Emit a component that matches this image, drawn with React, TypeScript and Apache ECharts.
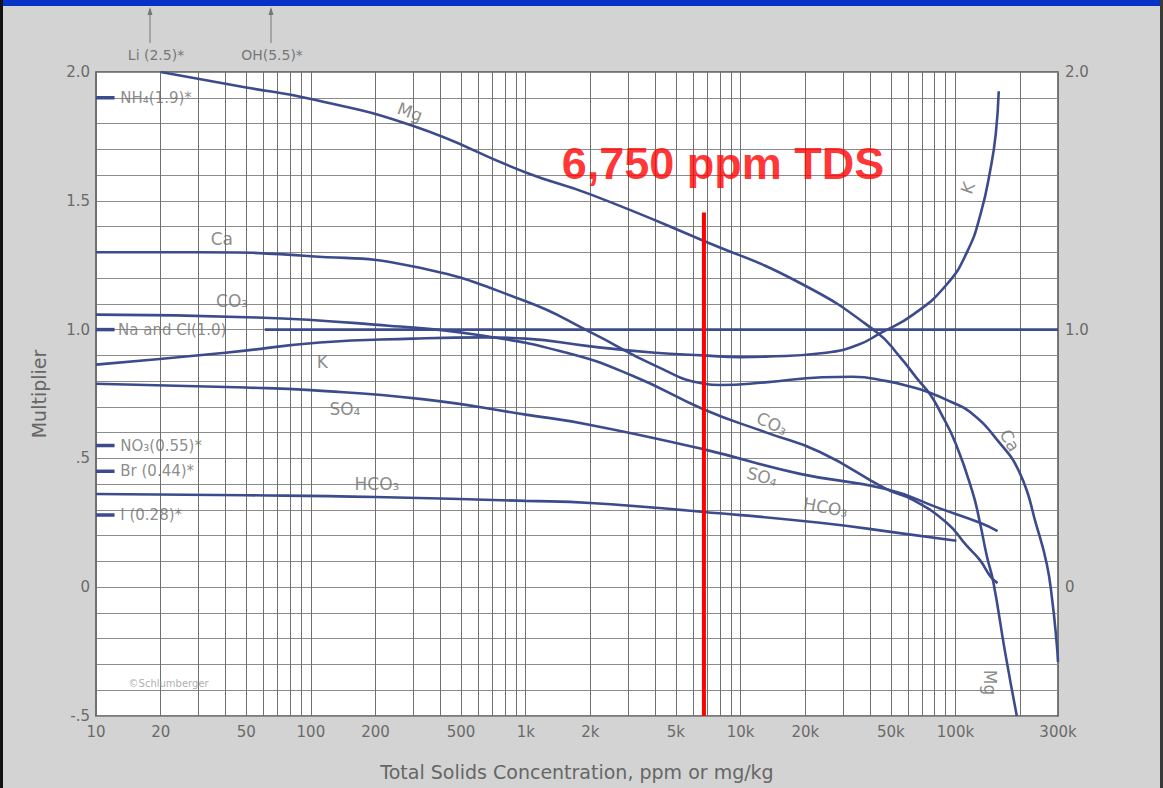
import React, { useEffect, useRef } from "react";
import * as echarts from "echarts";

// ---------------- data ----------------
const mgX = [20, 50, 100, 300, 1000, 2000, 6500, 19000, 43000, 55000, 67000, 76000, 85000, 100000, 120000, 130000, 140000, 150000, 170000, 193000];
const mgY = [2.0, 1.94, 1.895, 1.79, 1.61, 1.525, 1.35, 1.18, 0.99, 0.895, 0.805, 0.75, 0.68, 0.56, 0.37, 0.25, 0.12, 0.02, -0.25, -0.5];

const caX = [10, 30, 100, 300, 1000, 2000, 4000, 6750, 8000, 13000, 24000, 33000, 48000, 62000, 76000, 95000, 117000, 157000, 200000, 239000, 266000, 282000, 296000, 300000];
const caY = [1.3, 1.3, 1.285, 1.245, 1.11, 0.99, 0.86, 0.79, 0.785, 0.795, 0.815, 0.817, 0.8, 0.778, 0.755, 0.72, 0.68, 0.57, 0.44, 0.235, 0.09, -0.05, -0.22, -0.29];

const kX = [10, 40, 110, 300, 650, 1000, 2000, 4000, 6750, 10000, 13000, 25000, 35000, 44500, 64000, 91000, 113000, 131000, 146000, 154000, 159000];
const kY = [0.864, 0.91, 0.95, 0.965, 0.97, 0.965, 0.935, 0.91, 0.9, 0.893, 0.895, 0.91, 0.94, 0.985, 1.06, 1.175, 1.3, 1.45, 1.63, 1.76, 1.925];

const co3X = [10, 56, 230, 590, 1550, 3160, 6750, 13200, 23400, 48000, 63000, 91000, 113000, 130000, 146000, 157000];
const co3Y = [1.058, 1.047, 1.015, 0.98, 0.91, 0.82, 0.69, 0.6, 0.525, 0.38, 0.34, 0.25, 0.16, 0.105, 0.04, 0.016];

const so4X = [10, 50, 100, 330, 1000, 2000, 6750, 18900, 48000, 85000, 130000, 157000];
const so4Y = [0.79, 0.775, 0.765, 0.73, 0.67, 0.63, 0.535, 0.44, 0.38, 0.305, 0.25, 0.218];

const hco3X = [10, 50, 200, 1000, 2000, 6750, 23400, 55000, 101000];
const hco3Y = [0.362, 0.357, 0.35, 0.335, 0.327, 0.292, 0.25, 0.21, 0.18];

const naclX = [61, 300000];
const naclY = [1.0, 1.0];

// short marks at the left edge: NH4, Na/Cl, NO3, Br, I
const edgeMarkValues = [1.9, 1.0, 0.55, 0.45, 0.28];
const edgeMarkX = [10, 12.2];

// 6,750 ppm TDS marker
const tdsValue = 6750;
const tdsY = [1.455, -0.5];

// axis ticks / grid
const xLabelValues = [10, 20, 50, 100, 200, 500, 1000, 2000, 5000, 10000, 20000, 50000, 100000, 300000];
const xGridValues = [
  10, 20, 30, 40, 50, 60, 70, 80, 90,
  100, 200, 300, 400, 500, 600, 700, 800, 900,
  1000, 2000, 3000, 4000, 5000, 6000, 7000, 8000, 9000,
  10000, 20000, 30000, 40000, 50000, 60000, 70000, 80000, 90000,
  100000, 200000, 300000,
];
const yLeftLabelValues = [-0.5, 0, 0.5, 1, 1.5, 2];
const yLeftLabelTexts = ["-.5", "0", ".5", "1.0", "1.5", "2.0"];
const yRightLabelValues = [0, 1, 2];
const yRightLabelTexts = ["0", "1.0", "2.0"];

// text annotations anchored in data coordinates
const annotations = [
  { text: "Mg", x: 289, y: 1.845, rot: -20, size: 17 },
  { text: "Ca", x: 38.5, y: 1.35, rot: 0, size: 17 },
  { text: "CO₃", x: 43, y: 1.11, rot: 0, size: 17 },
  { text: "K", x: 113, y: 0.875, rot: 0, size: 17 },
  { text: "SO₄", x: 144, y: 0.69, rot: 0, size: 17 },
  { text: "HCO₃", x: 203, y: 0.4, rot: 0, size: 17 },
  { text: "CO₃", x: 14000, y: 0.635, rot: -25, size: 17 },
  { text: "SO₄", x: 12600, y: 0.43, rot: -15, size: 17 },
  { text: "HCO₃", x: 24900, y: 0.31, rot: -10, size: 17 },
  { text: "Ca", x: 179000, y: 0.57, rot: -60, size: 17 },
  { text: "K", x: 114000, y: 1.55, rot: 70, size: 17 },
  { text: "Mg", x: 145000, y: -0.37, rot: -90, size: 17 },
];
const edgeLabels = [
  { text: "NH₄(1.9)*", x: 12.9, y: 1.9 },
  { text: "Na and Cl(1.0)", x: 12.6, y: 1.0 },
  { text: "NO₃(0.55)*", x: 12.9, y: 0.55 },
  { text: "Br (0.44)*", x: 12.9, y: 0.45 },
  { text: "I (0.28)*", x: 12.9, y: 0.28 },
];

const CURVE = "#3c4b8b";
const LABEL = "#6e6e6e";
const FONT = "DejaVu Sans";

const zip = (xs: number[], ys: number[]) => xs.map((x, i) => [x, ys[i]]);

function curve(name: string, xs: number[], ys: number[], smooth: number | boolean = 0.5) {
  return {
    name,
    type: "line",
    data: zip(xs, ys),
    symbol: "none",
    smooth,
    silent: true,
    z: 3,
    lineStyle: { color: CURVE, width: 2.6 },
    itemStyle: { color: CURVE },
  };
}

function buildOption() {
  const series: any[] = [
    curve("Mg", mgX, mgY),
    curve("Ca", caX, caY),
    curve("K", kX, kY),
    curve("CO3", co3X, co3Y),
    curve("SO4", so4X, so4Y),
    curve("HCO3", hco3X, hco3Y),
    curve("Na and Cl", naclX, naclY, false),
  ];
  edgeMarkValues.forEach((v, i) => {
    series.push({
      name: "mark" + i,
      type: "line",
      data: edgeMarkX.map((x) => [x, v]),
      symbol: "none",
      silent: true,
      z: 3,
      lineStyle: { color: CURVE, width: 3.5 },
    });
  });
  series.push({
    name: "TDS",
    type: "line",
    data: tdsY.map((y) => [tdsValue, y]),
    symbol: "none",
    silent: true,
    z: 10,
    lineStyle: { color: "#ff0000", width: 4 },
  });
  const labelItems: any[] = [];
  annotations.forEach((a) =>
    labelItems.push({
      value: [a.x, a.y],
      label: {
        show: true,
        formatter: a.text,
        position: "inside",
        rotate: a.rot,
        fontSize: a.size,
        fontFamily: FONT,
        color: LABEL,
      },
    })
  );
  edgeLabels.forEach((a) =>
    labelItems.push({
      value: [a.x, a.y],
      label: {
        show: true,
        formatter: a.text,
        position: "right",
        distance: 0,
        fontSize: 15,
        fontFamily: FONT,
        color: LABEL,
      },
    })
  );
  labelItems.push({
    value: [8280, 1.646],
    label: {
      show: true,
      formatter: "6,750 ppm TDS",
      position: "inside",
      fontSize: 45,
      fontWeight: "bold",
      fontFamily: "Liberation Sans",
      color: "#ff0000",
    },
  });
  labelItems.push({
    value: [14.1, -0.374],
    label: {
      show: true,
      formatter: "©Schlumberger",
      position: "right",
      distance: 0,
      fontSize: 10,
      fontFamily: FONT,
      color: "#9a9a9a",
    },
  });
  series.push({
    name: "labels",
    type: "scatter",
    symbol: "circle",
    symbolSize: 1,
    silent: true,
    clip: false,
    z: 12,
    itemStyle: { color: "rgba(0,0,0,0)" },
    data: labelItems,
  });

  const fmtX = (v: number) => (v >= 1000 ? v / 1000 + "k" : String(v));

  return {
    animation: false,
    backgroundColor: "#d3d3d3",
    grid: {
      left: 96,
      right: 105,
      top: 72,
      bottom: 72,
      show: true,
      backgroundColor: "#ffffff",
      borderColor: "#505050",
      borderWidth: 1.5,
      z: 0,
    },
    xAxis: {
      type: "log",
      logBase: 10,
      min: 10,
      max: 300000,
      axisLine: { show: false },
      axisTick: { show: false, customValues: xGridValues },
      splitLine: { show: true, lineStyle: { color: "#707070", width: 1 } },
      axisLabel: {
        customValues: xLabelValues,
        formatter: fmtX,
        margin: 8,
        fontFamily: FONT,
        fontSize: 15,
        color: "#6a6a6a",
      },
      name: "Total Solids Concentration, ppm or mg/kg",
      nameLocation: "middle",
      nameGap: 46,
      nameTextStyle: { fontFamily: FONT, fontSize: 19, color: "#666666" },
    },
    yAxis: [
      {
        type: "value",
        min: -0.5,
        max: 2,
        interval: 0.1,
        axisLine: { show: false },
        axisTick: { show: false },
        splitLine: { show: true, lineStyle: { color: "#8c8c8c", width: 1 } },
        axisLabel: {
          customValues: yLeftLabelValues,
          formatter: (v: number) => {
            const i = yLeftLabelValues.findIndex((t) => Math.abs(t - v) < 1e-6);
            return i >= 0 ? yLeftLabelTexts[i] : "";
          },
          margin: 6,
          fontFamily: FONT,
          fontSize: 15,
          color: "#6a6a6a",
        },
        name: "Multiplier",
        nameLocation: "middle",
        nameGap: 48,
        nameTextStyle: { fontFamily: FONT, fontSize: 19, color: "#666666" },
      },
      {
        type: "value",
        position: "right",
        min: -0.5,
        max: 2,
        interval: 0.1,
        axisLine: { show: false },
        axisTick: { show: false },
        splitLine: { show: false },
        axisLabel: {
          customValues: yRightLabelValues,
          formatter: (v: number) => {
            const i = yRightLabelValues.findIndex((t) => Math.abs(t - v) < 1e-6);
            return i >= 0 ? yRightLabelTexts[i] : "";
          },
          margin: 7,
          fontFamily: FONT,
          fontSize: 15,
          color: "#6a6a6a",
        },
      },
    ],
    graphic: [
      { type: "rect", shape: { x: 0, y: 0, width: 1163, height: 6 }, style: { fill: "#0633c6" }, z: 100 },
      { type: "rect", shape: { x: 0, y: 0, width: 3, height: 788 }, style: { fill: "#111111" }, z: 100 },
      { type: "rect", shape: { x: 1160, y: 0, width: 3, height: 788 }, style: { fill: "#3a3a3a" }, z: 100 },
      { type: "line", shape: { x1: 150, y1: 43, x2: 150, y2: 9 }, style: { stroke: "#777777", lineWidth: 1 }, z: 50 },
      { type: "polygon", shape: { points: [[147.5, 15], [150, 7], [152.5, 15]] }, style: { fill: "#777777" }, z: 50 },
      { type: "line", shape: { x1: 271, y1: 43, x2: 271, y2: 9 }, style: { stroke: "#777777", lineWidth: 1 }, z: 50 },
      { type: "polygon", shape: { points: [[268.5, 15], [271, 7], [273.5, 15]] }, style: { fill: "#777777" }, z: 50 },
      {
        type: "text",
        x: 156,
        y: 55,
        style: { text: "Li (2.5)*", font: "14px 'DejaVu Sans'", fill: "#777777", align: "center", verticalAlign: "middle", textAlign: "center", textVerticalAlign: "middle" },
        z: 50,
      },
      {
        type: "text",
        x: 272,
        y: 55,
        style: { text: "OH(5.5)*", font: "14px 'DejaVu Sans'", fill: "#777777", align: "center", verticalAlign: "middle", textAlign: "center", textVerticalAlign: "middle" },
        z: 50,
      },
    ],
    series,
  };
}

export default function App() {
  const ref = useRef<HTMLDivElement>(null);
  useEffect(() => {
    if (!ref.current) return;
    const chart = echarts.init(ref.current, null, { renderer: "svg" });
    chart.setOption(buildOption() as any);
    return () => chart.dispose();
  }, []);
  return (
    <div
      ref={ref}
      style={{ position: "fixed", left: 0, top: 0, width: 1163, height: 788 }}
    />
  );
}
